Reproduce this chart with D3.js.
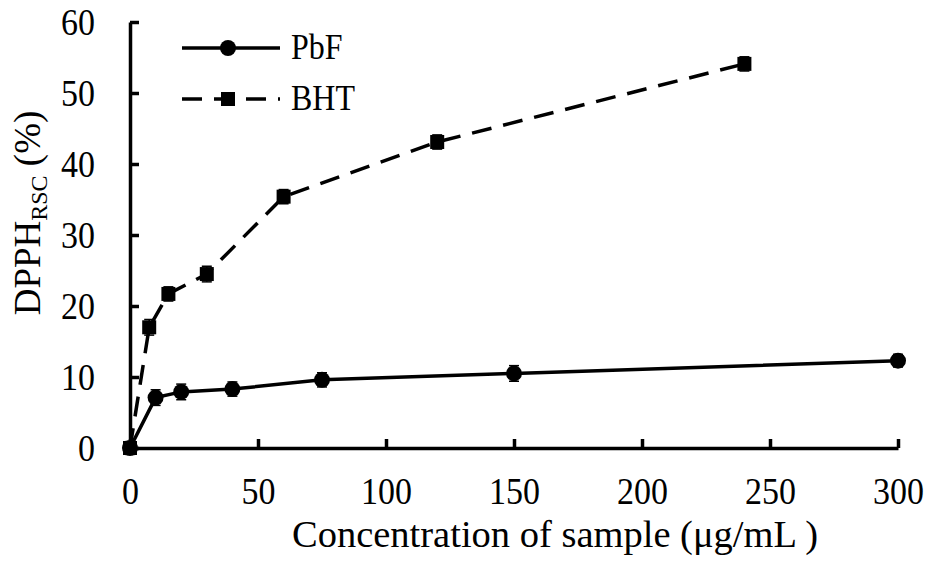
<!DOCTYPE html>
<html><head><meta charset="utf-8">
<script src="https://cdn.jsdelivr.net/npm/d3@7"></script>
<style>body{margin:0;background:#fff}svg{display:block}</style>
</head><body><svg id="c" width="932" height="562"></svg>
<script>
const pbfX = [0, 10, 20, 40, 75, 150, 300];
const pbfY = [0, 7.1, 7.9, 8.3, 9.6, 10.5, 12.3];
const pbfErr = [0.9, 1.1, 1.1, 1.0, 1.0, 1.1, 0.9];
const bhtX = [0, 7.5, 15, 30, 60, 120, 240];
const bhtY = [0, 17.0, 21.7, 24.5, 35.4, 43.1, 54.1];
const bhtErr = [0.8, 1.1, 1.0, 1.1, 1.0, 1.0, 1.0];
const xTicks = [0, 50, 100, 150, 200, 250, 300];
const yTicks = [0, 10, 20, 30, 40, 50, 60];

const FONT = "'Liberation Serif', 'Times New Roman', Times, serif";
const SY = 1.12;
const svg = d3.select("#c");
const x = d3.scaleLinear().domain([0, 300]).range([130, 898]);
const y = d3.scaleLinear().domain([0, 60]).range([448, 22]);

// axes
const xa = svg.append("g").attr("transform", "translate(0,448)")
  .call(d3.axisBottom(x).tickValues(xTicks).tickSize(-9).tickSizeOuter(0));
const ya = svg.append("g").attr("transform", "translate(130,0)")
  .call(d3.axisLeft(y).tickValues(yTicks).tickSize(-9).tickSizeOuter(0));
[xa, ya].forEach(a => {
  a.attr("font-family", null).attr("font-size", null);
  a.selectAll("path,line").attr("stroke", "#000").attr("stroke-width", 3.5);
  a.selectAll("text").style("font-family", FONT).style("font-size", "34px").attr("fill", "#000")
    .attr("dy", null).attr("transform", `scale(1,${SY})`);
});
xa.selectAll("text").attr("y", 56 / SY);
ya.selectAll("text").attr("x", -35).attr("y", 12.5 / SY);

const pbf = pbfX.map((d, i) => ({x: d, y: pbfY[i], e: pbfErr[i]}));
const bht = bhtX.map((d, i) => ({x: d, y: bhtY[i], e: bhtErr[i]}));
const line = d3.line().x(d => x(d.x)).y(d => y(d.y));

svg.append("path").datum(bht).attr("d", line).attr("fill", "none")
  .attr("stroke", "#000").attr("stroke-width", 3.5).attr("stroke-dasharray", "20,12");
svg.append("path").datum(pbf).attr("d", line).attr("fill", "none")
  .attr("stroke", "#000").attr("stroke-width", 3.5);

function errbars(data) {
  const g = svg.append("g").attr("stroke", "#000").attr("stroke-width", 1.5);
  data.forEach(d => {
    g.append("line").attr("x1", x(d.x)).attr("x2", x(d.x)).attr("y1", y(d.y + d.e)).attr("y2", y(d.y - d.e));
    [d.y + d.e, d.y - d.e].forEach(v => g.append("line").attr("x1", x(d.x) - 5).attr("x2", x(d.x) + 5).attr("y1", y(v)).attr("y2", y(v)));
  });
}
errbars(bht);
errbars(pbf);

svg.append("g").selectAll("rect").data(bht).join("rect")
  .attr("x", d => x(d.x) - 7).attr("y", d => y(d.y) - 7).attr("width", 14).attr("height", 14).attr("fill", "#000");
svg.append("g").selectAll("circle").data(pbf).join("circle")
  .attr("cx", d => x(d.x)).attr("cy", d => y(d.y)).attr("r", 8).attr("fill", "#000");

// legend
const lg = svg.append("g");
lg.append("line").attr("x1", 182).attr("x2", 280).attr("y1", 48).attr("y2", 48).attr("stroke", "#000").attr("stroke-width", 3.5);
lg.append("circle").attr("cx", 228).attr("cy", 48).attr("r", 8).attr("fill", "#000");
lg.append("text").attr("transform", `translate(291,59) scale(1,${SY})`).style("font-family", FONT).style("font-size", "32px").text("PbF");
lg.append("line").attr("x1", 182).attr("x2", 280).attr("y1", 99).attr("y2", 99).attr("stroke", "#000").attr("stroke-width", 3.5).attr("stroke-dasharray", "20,12");
lg.append("rect").attr("x", 221).attr("y", 92).attr("width", 14).attr("height", 14).attr("fill", "#000");
lg.append("text").attr("transform", `translate(291,110) scale(1,${SY})`).style("font-family", FONT).style("font-size", "32px").text("BHT");

// axis titles
svg.append("text").attr("transform", "translate(555,547)").attr("text-anchor", "middle").style("font-family", FONT).style("font-size", "38.5px")
  .text("Concentration of sample (μg/mL )");
const yt = svg.append("text").attr("transform", "translate(40,213) rotate(-90)").attr("text-anchor", "middle").style("font-family", FONT).style("font-size", "37px");
yt.append("tspan").text("DPPH");
yt.append("tspan").attr("dy", 7).style("font-size", "24px").text("RSC");
yt.append("tspan").attr("dy", -7).text(" (%)");
</script></body></html>
